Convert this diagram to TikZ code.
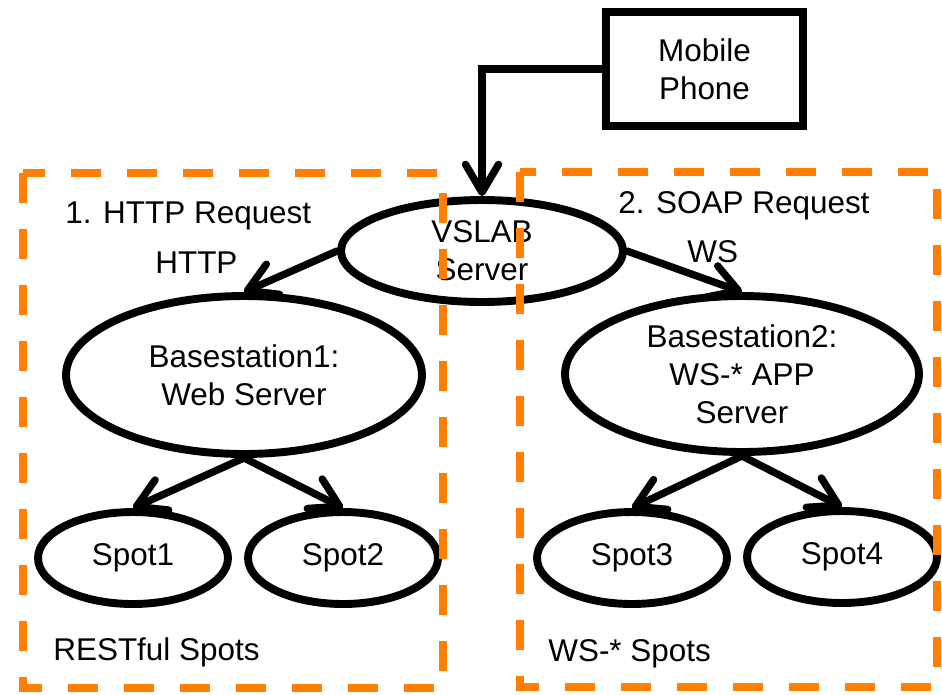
\documentclass[tikz,border=0pt]{standalone}
\usepackage{fontspec}
\setmainfont{Liberation Sans}
\usetikzlibrary{arrows.meta,shapes.geometric}
\definecolor{boxorange}{RGB}{255,128,0}
\begin{document}
\begin{tikzpicture}[x=0.02cm,y=-0.02cm,
  every node/.style={font=\fontsize{17.9}{21.5}\selectfont},
  oval/.style={ellipse,draw=black,line width=4.5pt,fill=white,inner sep=0pt,align=center},
  conn/.style={line width=4.2pt,line cap=round,-{Straight Barb[length=0.56cm,width=0.66cm,round]}},
  group/.style={draw=boxorange,line width=4.2pt,dash pattern=on 0.6cm off 0.52cm},
  lbl/.style={anchor=base west,inner sep=0pt}]
\useasboundingbox (0,0) rectangle (942,694);
\fill[white] (0,0) rectangle (942,694);
% nodes
\node[draw=black,line width=4.5pt,fill=white,minimum width=3.94cm,minimum height=2.28cm,align=center,inner sep=0pt] (mp) at (704.5,69) {Mobile\\Phone};
\node[oval,minimum width=5.64cm,minimum height=2.04cm] (vs) at (482,251) {VSLAB\\Server};
\node[oval,minimum width=7.12cm,minimum height=3.16cm] (b1) at (244,375) {Basestation1:\\Web Server};
\node[oval,minimum width=7.08cm,minimum height=3.12cm] (b2) at (742,374) {Basestation2:\\WS-* APP\\Server};
\node[oval,minimum width=3.8cm,minimum height=1.84cm] (s1) at (133,558) {Spot1};
\node[oval,minimum width=3.8cm,minimum height=1.84cm] (s2) at (343,558) {Spot2};
\node[oval,minimum width=3.8cm,minimum height=1.84cm] (s3) at (632,558) {Spot3};
\node[oval,minimum width=3.8cm,minimum height=1.84cm] (s4) at (842,557) {Spot4};
% connectors
\draw[conn] (mp.west) -| (vs.north);
\draw[conn] (vs.west) -- (b1.north);
\draw[conn] (vs.east) -- (b2.north);
\draw[conn] (b1.south) -- (s1.north);
\draw[conn] (b1.south) -- (s2.north);
\draw[conn] (b2.south) -- (s3.north);
\draw[conn] (b2.south) -- (s4.north);
% labels
\node[lbl] (t1) at (65,223) {1. HTTP Request};
\node[lbl] (t2) at (618,213) {2. SOAP Request};
\node[lbl] (t3) at (155,273) {HTTP};
\node[lbl] (t4) at (687,262) {WS};
\node[lbl] (t5) at (53,660) {RESTful Spots};
\node[lbl] (t6) at (548,661) {WS-* Spots};
% group boxes
\draw[group] (23,173) rectangle (443,688);
\draw[group] (520,172) rectangle (937,687);
\end{tikzpicture}
\end{document}
